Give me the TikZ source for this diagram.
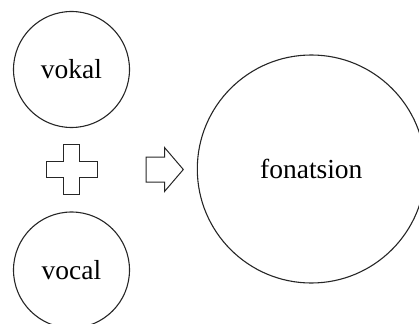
\documentclass[tikz,border=0pt]{standalone}
\usepackage{fontspec}
\setmainfont{Liberation Serif}
\begin{document}
\begin{tikzpicture}[x=1pt,y=-1pt,
  circ/.style={draw=black!85, line width=1.1pt, circle, inner sep=0pt, font=\fontsize{27.5}{30}\selectfont},
  shapeline/.style={draw=black!85, line width=1pt, line join=miter}]
\useasboundingbox (0,0) rectangle (419,323);
\begin{scope}
\clip (0,0) rectangle (419,323);
\node[circ, minimum size=116pt] (vokal) at (71.5,69.5) {vokal};
\node[circ, minimum size=116pt] (vocal) at (71.5,270) {vocal};
\node[circ, minimum size=228pt] (fon) at (311.3,169) {fonatsion};
\end{scope}
% plus sign
\coordinate (plus) at (71.7,169);
\draw[shapeline] (plus) ++(-8,-25) -- ++(16,0) -- ++(0,17) -- ++(17.5,0) -- ++(0,16) -- ++(-17.5,0) -- ++(0,17) -- ++(-16,0) -- ++(0,-17) -- ++(-17.5,0) -- ++(0,-16) -- ++(17.5,0) -- cycle;
% block arrow
\coordinate (arr) at (146,169.5);
\draw[shapeline] (arr) ++(0,-12.5) -- ++(18.5,0) -- ++(0,-9.5) -- (183.3,169.5) -- (164.5,191.5) -- ++(0,-9.5) -- ++(-18.5,0) -- cycle;
\end{tikzpicture}
\end{document}
